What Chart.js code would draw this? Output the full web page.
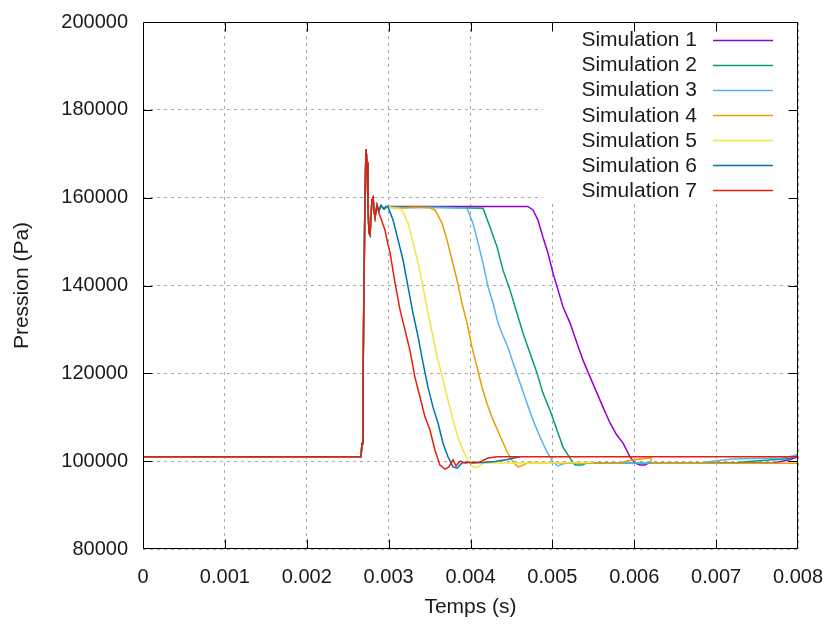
<!DOCTYPE html>
<html><head><meta charset="utf-8">
<script src="https://cdn.jsdelivr.net/npm/chart.js@4.4.1/dist/chart.umd.min.js"></script>
<style>html,body{margin:0;padding:0;background:#fff}</style>
</head><body>
<canvas id="c" width="826" height="626"></canvas>
<script>
const seriesLabels = ['Simulation 1','Simulation 2','Simulation 3','Simulation 4','Simulation 5','Simulation 6','Simulation 7'];
const seriesColors = ['#9400D3','#009E73','#56B4E9','#E69F00','#F0E442','#0072B2','#E51E10'];

// shared pre-shock and spike part (time s, pressure Pa)
const spikeT = [0, 0.00265, 0.002662, 0.002675, 0.002687, 0.002699, 0.002711, 0.002724, 0.002736, 0.002748, 0.00276, 0.002773, 0.002785, 0.002797, 0.00281, 0.002822, 0.002834, 0.002858];
const spikeP = [101000, 101000, 101000, 104000, 118000, 140000, 160000, 171000, 168000, 158000, 152000, 151500, 156000, 159500, 160000, 157000, 155500, 158300];

const sim1T = [0.002883, 0.002907, 0.002944, 0.00298, 0.0035, 0.0042, 0.0047, 0.004763, 0.004824, 0.004885, 0.004946, 0.005008, 0.005069, 0.00513, 0.005215, 0.0053, 0.005374, 0.00546, 0.005545, 0.005618, 0.005704, 0.005785, 0.005863, 0.005948, 0.006009, 0.00607, 0.006131, 0.00618, 0.0077, 0.0079, 0.008];
const sim1P = [157000, 158200, 157400, 158000, 158000, 158000, 158000, 157200, 154900, 151000, 147400, 142800, 139000, 135100, 131500, 126900, 123000, 119200, 115500, 112300, 108700, 106000, 104100, 101000, 99600, 99100, 99100, 99600, 99600, 100300, 101000];

const sim2T = [0.002883, 0.002907, 0.002944, 0.00298, 0.0035, 0.004153, 0.004238, 0.004324, 0.004397, 0.004482, 0.004568, 0.004641, 0.004727, 0.004812, 0.004885, 0.004971, 0.005056, 0.00513, 0.005215, 0.005276, 0.005362, 0.005423, 0.0072, 0.0074, 0.0077, 0.0079, 0.008];
const sim2P = [157000, 158200, 157400, 157900, 157800, 157600, 153300, 148800, 143500, 139000, 133700, 129200, 124600, 120100, 115500, 111600, 107100, 103200, 100700, 99100, 99100, 99600, 99600, 99900, 100300, 100600, 101600];

const sim3T = [0.002883, 0.002907, 0.002944, 0.00298, 0.0032, 0.0035, 0.0038, 0.003957, 0.00403, 0.004092, 0.004153, 0.004214, 0.004275, 0.004336, 0.004397, 0.004446, 0.00452, 0.004605, 0.00469, 0.004763, 0.004849, 0.004934, 0.005008, 0.005069, 0.00513, 0.0052, 0.0068, 0.007, 0.0072, 0.0078, 0.008];
const sim3P = [157000, 158200, 157400, 157900, 157700, 157800, 157700, 157600, 154200, 149700, 145100, 139700, 136000, 131500, 128500, 126500, 122400, 117800, 113200, 109400, 105500, 102100, 99800, 98900, 99400, 99600, 99600, 100100, 100500, 100700, 101400];

const sim4T = [0.002883, 0.002907, 0.002944, 0.00298, 0.0031, 0.0033, 0.0035, 0.003566, 0.003652, 0.003713, 0.003774, 0.003835, 0.003896, 0.003957, 0.004018, 0.00408, 0.00414, 0.0042, 0.004275, 0.00436, 0.004446, 0.00452, 0.00458, 0.004641, 0.0047, 0.0058, 0.0059, 0.006, 0.0062, 0.00621, 0.008];
const sim4P = [157000, 158200, 157400, 157900, 157600, 157800, 157700, 157200, 154200, 150400, 145800, 141300, 136000, 131500, 126000, 121400, 116900, 113200, 109400, 105800, 102200, 99800, 98700, 99100, 99700, 99500, 100000, 100300, 100800, 99500, 99500];

const sim5T = [0.002883, 0.002907, 0.002944, 0.00298, 0.00305, 0.00312, 0.003164, 0.003237, 0.003298, 0.00336, 0.00342, 0.00348, 0.003542, 0.003603, 0.003664, 0.003725, 0.003786, 0.003847, 0.003908, 0.00397, 0.00403, 0.004092, 0.004153, 0.0045, 0.0055];
const sim5P = [157000, 158200, 157400, 157900, 157700, 157600, 157200, 154200, 149700, 145100, 139700, 133700, 128300, 123000, 118500, 113900, 109400, 105500, 102500, 100300, 98700, 98700, 99600, 99600, 99700];

const sim6T = [0.002883, 0.002907, 0.002944, 0.00297, 0.002992, 0.003054, 0.003115, 0.003176, 0.003237, 0.003298, 0.00336, 0.00342, 0.00348, 0.003542, 0.003603, 0.003664, 0.003725, 0.003786, 0.003835, 0.003896, 0.003957, 0.00403, 0.00415, 0.0043, 0.00445, 0.004605];
const sim6P = [157000, 158200, 157400, 158000, 157900, 154900, 150400, 145800, 139700, 133700, 128300, 122400, 116900, 112300, 108700, 104100, 101000, 98700, 98400, 99600, 99800, 99600, 99700, 99900, 100400, 101000];

const sim7T = [0.00288, 0.0029, 0.00293, 0.002956, 0.00298, 0.003017, 0.003078, 0.00314, 0.0032, 0.00326, 0.00332, 0.003383, 0.003444, 0.003505, 0.003566, 0.003627, 0.003689, 0.003737, 0.003786, 0.003823, 0.003872, 0.003933, 0.004, 0.004116, 0.004214, 0.004324, 0.008];
const sim7P = [156500, 155600, 154000, 152600, 150400, 147500, 140600, 134400, 129900, 125300, 119200, 114600, 110100, 107100, 102500, 99100, 98200, 98700, 100300, 98900, 100000, 99600, 99700, 99800, 100700, 101000, 101000];

const tailT = [sim1T, sim2T, sim3T, sim4T, sim5T, sim6T, sim7T];
const tailP = [sim1P, sim2P, sim3P, sim4P, sim5P, sim6P, sim7P];

const xTickStep = 0.001, xMin = 0, xMax = 0.008;
const yTickStep = 20000, yMin = 80000, yMax = 200000;

const FONT = '"Liberation Sans", Arial, sans-serif';
const TXT = '#1a1a1a';

function buildPoints(i){
  const ts = spikeT.concat(tailT[i]);
  const ps = spikeP.concat(tailP[i]);
  return ts.map((t,k)=>({x:t, y:ps[k]}));
}

const datasets = seriesLabels.map((lab,i)=>({
  label: lab,
  data: buildPoints(i),
  borderColor: seriesColors[i],
  backgroundColor: seriesColors[i],
  borderWidth: 1.5,
  pointRadius: 0,
  showLine: true,
  fill: false,
  tension: 0,
  order: 7 - i
}));

const framePlugin = {
  id: 'gnuframe',
  beforeDatasetsDraw(chart){
    const {ctx, chartArea:a} = chart;
    ctx.save();
    ctx.fillStyle = '#fff';
    ctx.fillRect(a.right - 255, a.top + 1, 254, 180);
    ctx.restore();
  },
  afterDatasetsDraw(chart){
    const {ctx, chartArea:a, scales} = chart;
    ctx.save();
    ctx.strokeStyle = '#000';
    ctx.lineWidth = 1;
    const L = Math.round(a.left)+0.5, R = Math.round(a.right)-0.5, T = Math.round(a.top)+0.5, B = Math.round(a.bottom)-0.5;
    ctx.beginPath();
    ctx.rect(L, T, R-L, B-T);
    ctx.stroke();
    const tl = 9;
    ctx.beginPath();
    scales.x.ticks.forEach(tk=>{
      if (tk.value <= xMin || tk.value >= xMax) return;
      const px = Math.round(scales.x.getPixelForValue(tk.value))+0.5;
      ctx.moveTo(px, B); ctx.lineTo(px, B - tl);
      ctx.moveTo(px, T); ctx.lineTo(px, T + tl);
    });
    scales.y.ticks.forEach(tk=>{
      if (tk.value <= yMin || tk.value >= yMax) return;
      const py = Math.round(scales.y.getPixelForValue(tk.value))+0.5;
      ctx.moveTo(L, py); ctx.lineTo(L + tl, py);
      ctx.moveTo(R, py); ctx.lineTo(R - tl, py);
    });
    ctx.stroke();
    // key
    ctx.font = '21px ' + FONT;
    ctx.textAlign = 'right';
    ctx.textBaseline = 'middle';
    chart.data.datasets.forEach((ds,i)=>{
      const y = a.top + 17.5 + i*25.1;
      ctx.fillStyle = TXT;
      ctx.fillText(ds.label, a.right - 101, y + 1);
      ctx.strokeStyle = ds.borderColor;
      ctx.lineWidth = 1.5;
      ctx.beginPath();
      ctx.moveTo(a.right - 85, Math.round(y)+0.5);
      ctx.lineTo(a.right - 25, Math.round(y)+0.5);
      ctx.stroke();
    });
    ctx.restore();
  }
};

new Chart(document.getElementById('c'), {
  type: 'scatter',
  data: { datasets },
  plugins: [framePlugin],
  options: {
    responsive: false,
    animation: false,
    devicePixelRatio: 1,
    layout: { padding: { top: 22, right: 28, left: 0, bottom: 0 } },
    plugins: { legend: { display: false }, tooltip: { enabled: false } },
    scales: {
      x: {
        type: 'linear', min: xMin, max: xMax,
        afterFit(s){ s.height = 77; s.paddingLeft = 0; s.paddingRight = 0; },
        ticks: { stepSize: xTickStep, padding: 16, color: TXT, font: { size: 20, family: FONT },
          maxRotation: 0, autoSkip: false,
          callback: v => String(Number(v.toFixed(4))) },
        grid: { color: '#a8a8a8', lineWidth: 1, drawTicks: false },
        border: { display: false, dash: [3,4] },
        title: { display: true, text: 'Temps (s)', color: TXT, font: { size: 21, family: FONT }, padding: { top: 0, bottom: 6 } }
      },
      y: {
        type: 'linear', min: yMin, max: yMax,
        afterFit(s){ s.width = 143; s.paddingTop = 0; s.paddingBottom = 0; },
        ticks: { stepSize: yTickStep, padding: 15, color: TXT, font: { size: 20, family: FONT },
          callback: v => String(v) },
        grid: { color: '#a8a8a8', lineWidth: 1, drawTicks: false },
        border: { display: false, dash: [3,4] },
        title: { display: true, text: 'Pression (Pa)', color: TXT, font: { size: 21, family: FONT }, padding: { top: 10, bottom: 0 } }
      }
    }
  }
});
</script>
</body></html>
